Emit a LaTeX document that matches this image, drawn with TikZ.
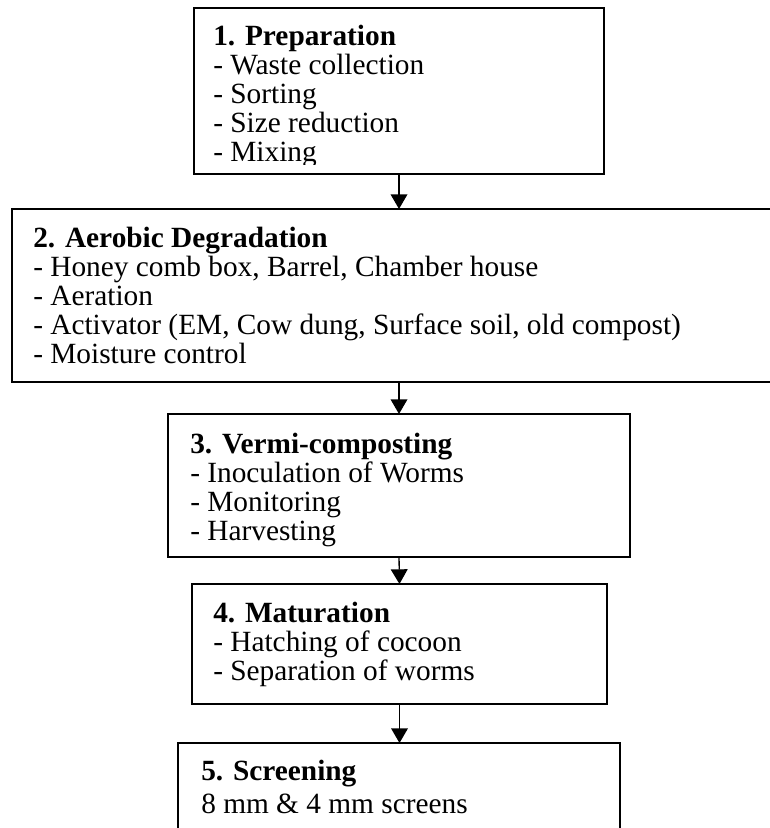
\documentclass[tikz,border=0pt]{standalone}
\usepackage{fontspec}
\setmainfont{Liberation Serif}
\usetikzlibrary{arrows.meta}
\newcommand{\firstline}{\rule{0pt}{16pt}}

\begin{document}
\begin{tikzpicture}[x=0.75pt,y=-0.75pt,
  box/.style={draw, line width=1.4pt, anchor=north west, inner sep=0pt, outer sep=0pt},
  txt/.style={anchor=north west, align=left, inner sep=0pt, font=\fontsize{22}{21.75}\selectfont},
  flow/.style={line width=1pt, -{Triangle[length=11pt,width=12.5pt]}}]
\useasboundingbox (0,0) rectangle (770,828);

%the five steps
\node[box, minimum width=307.5pt, minimum height=124.5pt] (prep) at (194,8) {};
\node[box, minimum width=580.5pt, minimum height=129.75pt] (aerob) at (12,209) {}; % right side runs off the page
\node[box, minimum width=346.5pt, minimum height=107.25pt] (vermi) at (168,414) {};
\node[box, minimum width=311.25pt, minimum height=90pt] (matur) at (192,584) {};
\node[box, minimum width=331.5pt, minimum height=95.25pt] (screen) at (178,743) {}; % bottom runs off the page

\begin{scope}
\clip (prep.north west) rectangle ([yshift=7.5pt]prep.south east); % last line is cut
\node[txt] (preptxt) at ([shift={(19,15.7)}]prep.north west) {\firstline\textbf{1. Preparation}\\- Waste collection\\- Sorting\\- Size reduction\\- Mixing};
\end{scope}
\node[txt] (aerobtxt) at ([shift={(21,16.7)}]aerob.north west) {\firstline\textbf{2. Aerobic Degradation}\\- Honey comb box, Barrel, Chamber house\\- Aeration\\- Activator (EM, Cow dung, Surface soil, old compost)\\- Moisture control};
\node[txt] (vermitxt) at ([shift={(22,17.7)}]vermi.north west) {\firstline\textbf{3. Vermi-composting}\\- Inoculation of Worms\\- Monitoring\\- Harvesting};
\node[txt] (maturtxt) at ([shift={(21,16.7)}]matur.north west) {\firstline\textbf{4. Maturation}\\- Hatching of cocoon\\- Separation of worms};
\node[txt] (screentxt) at ([shift={(23,15.7)}]screen.north west) {\firstline\textbf{5. Screening}\\[3pt]8 mm \& 4 mm screens};

%arrows
\draw[flow] (prep.south) -- (aerob.north);
\draw[flow] (aerob.south) -- (vermi.north);
\draw[flow] (vermi.south) -- (matur.north);
\draw[flow] (matur.south) -- (matur.south |- screen.north);
\end{tikzpicture}
\end{document}
